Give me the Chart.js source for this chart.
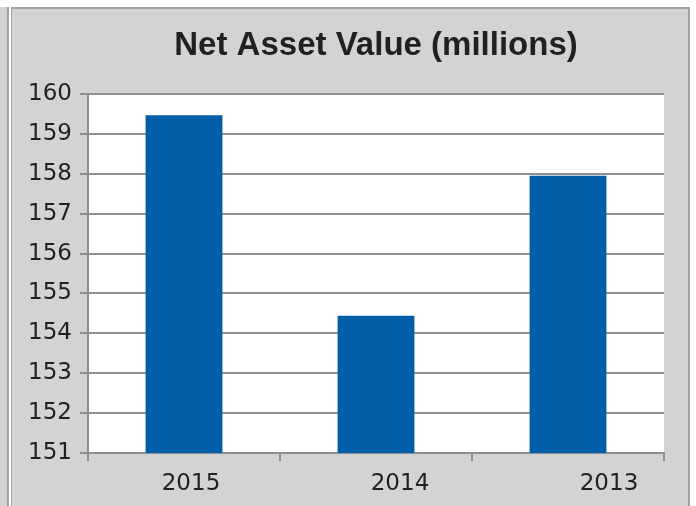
<!DOCTYPE html>
<html>
<head>
<meta charset="utf-8">
<script src="https://cdn.jsdelivr.net/npm/chart.js@4.4.1/dist/chart.umd.min.js"></script>
<style>
  html, body { margin: 0; padding: 0; background: #ffffff; }
  #wrap { position: relative; width: 696px; height: 506px; overflow: hidden; }
  #leftStrip { position: absolute; left: 0; top: 7px; width: 7px; height: 499px; background: #d2d3d5; border-right: 2px solid #a3a3a5; }
  #panel { position: absolute; left: 11px; top: 7px; width: 676px; height: 499px; background: #d2d3d5;
           border-left: 1px solid #a3a3a5; border-top: 2px solid #a3a3a5; border-right: 2px solid #a3a3a5; }
  canvas { position: absolute; left: 0; top: 0; }
</style>
</head>
<body>
<div id="wrap">
  <div id="leftStrip"></div>
  <div id="panel"></div>
  <canvas id="c" width="696" height="506"></canvas>
</div>
<script>
const categories = ['2015', '2014', '2013'];
const netAssetValues = [159.47, 154.44, 157.95];
const yTicks = [151, 152, 153, 154, 155, 156, 157, 158, 159, 160];
const chartTitle = 'Net Asset Value (millions)';

const xLabelShift = [7, 24, 41];

const shiftLabels = {
  id: 'shiftLabels',
  afterLayout(chart) {
    const sc = chart.scales.x;
    const items = sc.getLabelItems(chart.chartArea);
    items.forEach((it, i) => {
      if (it.options && it.options.translation) {
        it.options.translation[0] += xLabelShift[i] || 0;
      }
    });
  }
};

const plotBackground = {
  id: 'plotBackground',
  beforeDraw(chart) {
    const { ctx, chartArea: a } = chart;
    ctx.save();
    ctx.fillStyle = '#ffffff';
    ctx.fillRect(a.left, a.top, a.right - a.left, a.bottom - a.top);
    ctx.restore();
  }
};

new Chart(document.getElementById('c'), {
  type: 'bar',
  data: {
    labels: categories,
    datasets: [{
      data: netAssetValues,
      backgroundColor: '#015ea9',
      borderWidth: 0,
      barPercentage: 0.4,
      categoryPercentage: 1.0
    }]
  },
  options: {
    responsive: false,
    animation: false,
    layout: { padding: { left: 0, right: 32, top: 0, bottom: 0 } },
    plugins: {
      legend: { display: false },
      tooltip: { enabled: false },
      title: {
        display: true,
        text: chartTitle,
        fullSize: false,
        color: '#231f20',
        font: { family: 'Liberation Sans', size: 33, weight: 'bold', lineHeight: 1.2 },
        padding: { top: 26, bottom: 28.4 }
      }
    },
    scales: {
      x: {
        afterFit(s) { s.height = 53; },
        grid: { drawOnChartArea: false, drawTicks: true, tickLength: 8, color: '#8e8e90', lineWidth: 2, offset: true },
        border: { display: true, color: '#8e8e90', width: 2 },
        ticks: { color: '#231f20', font: { family: 'DejaVu Sans', size: 23 }, padding: 9 }
      },
      y: {
        min: 151,
        max: 160,
        afterFit(s) { s.width = 88; },
        afterBuildTicks(s) { s.ticks = yTicks.map(v => ({ value: v })); },
        grid: { color: '#8e8e90', lineWidth: 2, tickLength: 8, drawTicks: true },
        border: { display: true, color: '#8e8e90', width: 2 },
        ticks: { color: '#231f20', font: { family: 'DejaVu Sans', size: 23 }, padding: 8 }
      }
    }
  },
  plugins: [plotBackground, shiftLabels]
});
</script>
</body>
</html>
